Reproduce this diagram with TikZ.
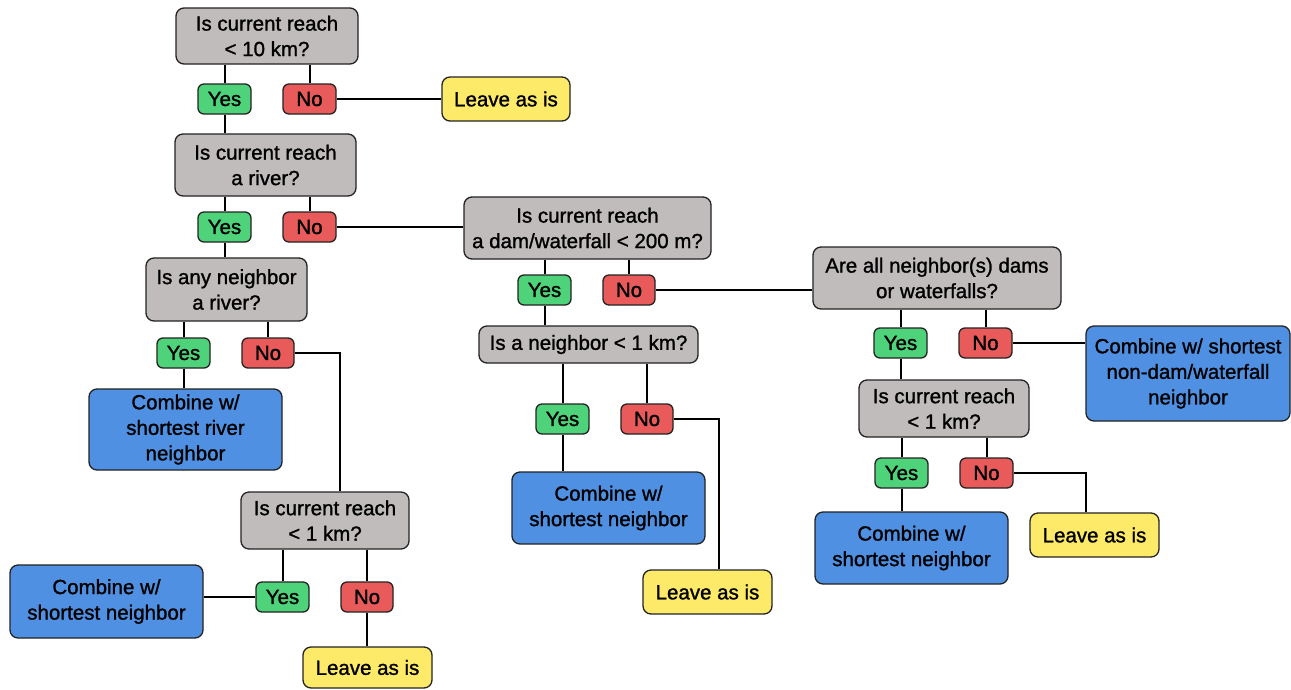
\documentclass[tikz,border=0pt]{standalone}
\usepackage{fontspec}
\setmainfont{Liberation Sans}
\newfontfamily\heavyfont{Liberation Sans}[FakeBold=1.2]
\definecolor{qgray}{RGB}{192,188,187}
\definecolor{ygreen}{RGB}{78,210,122}
\definecolor{nred}{RGB}{233,90,90}
\definecolor{lyellow}{RGB}{253,234,104}
\definecolor{cblue}{RGB}{80,144,226}
\definecolor{edge}{RGB}{35,35,35}
\tikzset{
  box/.style={draw=edge, line width=1.3pt, rounded corners=8pt, inner sep=0pt, align=center,
    font=\heavyfont\fontsize{20.5}{25.5}\selectfont},
  qbox/.style={box, fill=qgray},
  yesbox/.style={box, fill=ygreen, minimum width=53pt, minimum height=30pt, rounded corners=6pt},
  nobox/.style={box, fill=nred, minimum width=53pt, minimum height=30pt, rounded corners=6pt},
  leavebox/.style={box, fill=lyellow, minimum width=129pt, minimum height=44pt},
  combbox/.style={box, fill=cblue},
  conn/.style={draw=black, line width=2pt},
  thinconn/.style={draw=black, line width=1.3pt}
}
\begin{document}
\begin{tikzpicture}[x=1pt,y=-1pt]
\useasboundingbox[fill=white] (0,0) rectangle (1291,689);
% nodes
\node[qbox, minimum width=182pt, minimum height=56pt] (Q1) at (267,36) {Is current reach\\< 10 km?};
\node[yesbox] (Y1) at (224.5,99) {Yes};
\node[nobox] (N1) at (309.5,99) {No};
\node[leavebox, minimum width=128pt] (L1) at (506,99) {Leave as is};
\node[qbox, minimum width=181pt, minimum height=62pt] (Q2) at (265.5,165) {Is current reach\\a river?};
\node[yesbox] (Y2) at (224.5,227) {Yes};
\node[nobox] (N2) at (309.5,227) {No};
\node[qbox, minimum width=247pt, minimum height=62pt] (Q3) at (587.5,228) {Is current reach\\a dam/waterfall < 200 m?};
\node[qbox, minimum width=161pt, minimum height=63pt] (Q4) at (226.5,289.5) {Is any neighbor\\a river?};
\node[yesbox] (Y3) at (183.5,353) {Yes};
\node[nobox, minimum width=52pt] (N3) at (268,353) {No};
\node[combbox, minimum width=193pt, minimum height=81pt] (CR) at (185.5,429.5) {Combine w/\\shortest river\\neighbor};
\node[qbox, minimum width=168pt, minimum height=57pt] (Q5) at (325,520.5) {Is current reach\\< 1 km?};
\node[yesbox] (Y5) at (282.5,597) {Yes};
\node[nobox, minimum width=52pt] (N5) at (367,597) {No};
\node[combbox, minimum width=193pt, minimum height=73pt] (C5) at (106.5,601.5) {Combine w/\\shortest neighbor};
\node[leavebox, minimum height=41pt] (L5) at (367.5,667.5) {Leave as is};
\node[yesbox] (Y6) at (544.5,290) {Yes};
\node[nobox, minimum width=52pt] (N6) at (629,290) {No};
\node[qbox, minimum width=219pt, minimum height=37pt] (Q6) at (588.5,344.5) {Is a neighbor < 1 km?};
\node[yesbox] (Y7) at (562.5,419) {Yes};
\node[nobox, minimum width=52pt] (N7) at (647,419) {No};
\node[combbox, minimum width=193pt, minimum height=72pt] (C7) at (608.5,508) {Combine w/\\shortest neighbor};
\node[leavebox] (L7) at (707.5,592) {Leave as is};
\node[qbox, minimum width=248pt, minimum height=62pt] (Q7) at (937,278) {Are all neighbor(s) dams\\or waterfalls?};
\node[yesbox] (Y8) at (900.5,343) {Yes};
\node[nobox] (N8) at (985.5,343) {No};
\node[combbox, minimum width=204pt, minimum height=95pt] (CN) at (1188,373.5) {Combine w/ shortest\\non-dam/waterfall\\neighbor};
\node[qbox, minimum width=170pt, minimum height=57pt] (Q8) at (944,408.5) {Is current reach\\< 1 km?};
\node[yesbox] (Y9) at (901.5,473) {Yes};
\node[nobox] (N9) at (986.5,473) {No};
\node[combbox, minimum width=193pt, minimum height=72pt] (C9) at (911.5,548) {Combine w/\\shortest neighbor};
\node[leavebox] (L9) at (1094.5,535) {Leave as is};
% connectors
\draw[conn] (Y1.north |- Q1.south) -- (Y1.north);
\draw[conn] (N1.north |- Q1.south) -- (N1.north);
\draw[conn] (N1.east) -- (L1.west);
\draw[conn] (Y1.south) -- (Y1.south |- Q2.north);
\draw[conn] (Y2.north |- Q2.south) -- (Y2.north);
\draw[conn] (N2.north |- Q2.south) -- (N2.north);
\draw[conn] (N2.east) -- (N2.east -| Q3.west);
\draw[conn] (Y2.south) -- (Y2.south |- Q4.north);
\draw[conn] (Y3.north |- Q4.south) -- (Y3.north);
\draw[conn] (N3.north |- Q4.south) -- (N3.north);
\draw[conn] (Y3.south) -- (Y3.south |- CR.north);
\draw[conn] (N3.east) -| ([xshift=15pt]Q5.north);
\draw[conn] (Y5.north |- Q5.south) -- (Y5.north);
\draw[conn] (N5.north |- Q5.south) -- (N5.north);
\draw[conn] (Y5.west) -- (Y5.west -| C5.east);
\draw[conn] (N5.south) -- (N5.south |- L5.north);
\draw[conn] (Y6.north |- Q3.south) -- (Y6.north);
\draw[conn] (N6.north |- Q3.south) -- (N6.north);
\draw[conn] (N6.east) -- (N6.east -| Q7.west);
\draw[conn] (Y6.south) -- (Y6.south |- Q6.north);
\draw[conn] (Y7.north |- Q6.south) -- (Y7.north);
\draw[conn] (N7.north |- Q6.south) -- (N7.north);
\draw[conn] (Y7.south) -- (Y7.south |- C7.north);
\draw[conn] (N7.east) -| ([xshift=11.5pt]L7.north);
\draw[conn] (Y8.north |- Q7.south) -- (Y8.north);
\draw[conn] (N8.north |- Q7.south) -- (N8.north);
\draw[thinconn] (N8.east) -- (N8.east -| CN.west);
\draw[conn] (Y8.south) -- (Y8.south |- Q8.north);
\draw[conn] (Y9.north |- Q8.south) -- (Y9.north);
\draw[conn] (N9.north |- Q8.south) -- (N9.north);
\draw[conn] (Y9.south) -- (Y9.south |- C9.north);
\draw[conn] (N9.east) -| ([xshift=-8.5pt]L9.north);
\end{tikzpicture}
\end{document}
